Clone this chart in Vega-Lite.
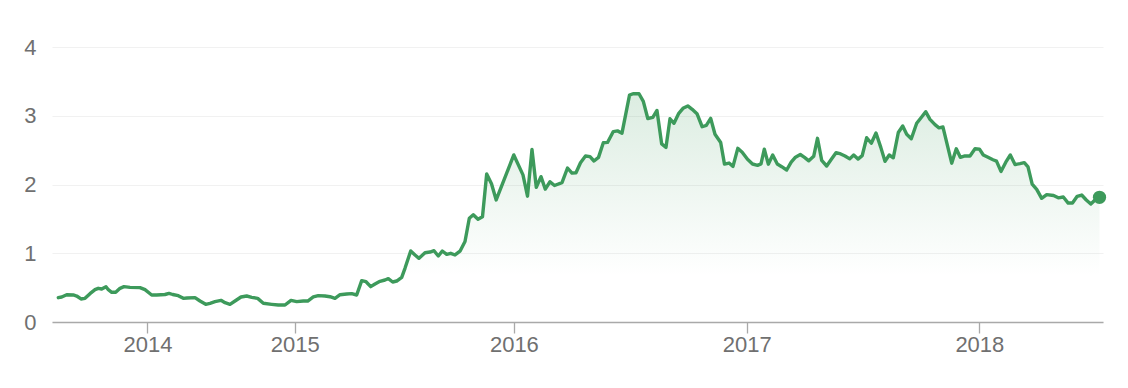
{
  "$schema": "https://vega.github.io/schema/vega-lite/v6.json",
  "width": 1051,
  "height": 275,
  "autosize": {"type": "none"},
  "padding": {"left": 52, "top": 47, "right": 25, "bottom": 66},
  "background": "#ffffff",
  "config": {
    "view": {"stroke": null},
    "axis": {"labelFont": "Liberation Sans", "labelFontSize": 22, "labelColor": "#707070", "title": null}
  },
  "data": {
    "values": [
      {"week": 1.41, "price": 0.354}, {"week": 2.17, "price": 0.364}, {"week": 3.28, "price": 0.397}, {"week": 4.75, "price": 0.393},
      {"week": 5.51, "price": 0.378}, {"week": 6.47, "price": 0.335}, {"week": 7.37, "price": 0.344}, {"week": 8.48, "price": 0.412},
      {"week": 9.6, "price": 0.47}, {"week": 10.33, "price": 0.49}, {"week": 11.09, "price": 0.48}, {"week": 12.05, "price": 0.514},
      {"week": 12.57, "price": 0.47}, {"week": 13.33, "price": 0.432}, {"week": 14.22, "price": 0.432}, {"week": 15.18, "price": 0.49},
      {"week": 16.07, "price": 0.514}, {"week": 17.41, "price": 0.504}, {"week": 19.64, "price": 0.5}, {"week": 20.76, "price": 0.47},
      {"week": 22.25, "price": 0.393}, {"week": 23.37, "price": 0.393}, {"week": 25.22, "price": 0.4}, {"week": 26.12, "price": 0.417},
      {"week": 26.94, "price": 0.4}, {"week": 28.19, "price": 0.383}, {"week": 29.31, "price": 0.344}, {"week": 30.13, "price": 0.35},
      {"week": 31.92, "price": 0.354}, {"week": 33.04, "price": 0.305}, {"week": 34.31, "price": 0.257}, {"week": 35.27, "price": 0.272},
      {"week": 36.38, "price": 0.296}, {"week": 37.72, "price": 0.315}, {"week": 38.62, "price": 0.281}, {"week": 39.73, "price": 0.257},
      {"week": 40.85, "price": 0.305}, {"week": 42.19, "price": 0.364}, {"week": 43.46, "price": 0.378}, {"week": 44.58, "price": 0.359},
      {"week": 45.91, "price": 0.344}, {"week": 47.17, "price": 0.272}, {"week": 49.04, "price": 0.257}, {"week": 50.51, "price": 0.247},
      {"week": 52.01, "price": 0.247}, {"week": 53.35, "price": 0.315}, {"week": 54.62, "price": 0.296}, {"week": 56.09, "price": 0.305},
      {"week": 57.08, "price": 0.305}, {"week": 58.33, "price": 0.364}, {"week": 59.44, "price": 0.383}, {"week": 60.94, "price": 0.378},
      {"week": 62.05, "price": 0.368}, {"week": 63.17, "price": 0.344}, {"week": 64.29, "price": 0.397}, {"week": 65.78, "price": 0.407},
      {"week": 66.9, "price": 0.412}, {"week": 68.01, "price": 0.393}, {"week": 69.13, "price": 0.601}, {"week": 70.09, "price": 0.586},
      {"week": 71.14, "price": 0.514}, {"week": 72.1, "price": 0.553}, {"week": 73.21, "price": 0.592}, {"week": 74.33, "price": 0.611},
      {"week": 75.07, "price": 0.63}, {"week": 76.05, "price": 0.582}, {"week": 76.94, "price": 0.596}, {"week": 78.06, "price": 0.65},
      {"week": 78.79, "price": 0.781}, {"week": 80.07, "price": 1.033}, {"week": 81.03, "price": 0.975}, {"week": 81.92, "price": 0.926},
      {"week": 83.26, "price": 1.008}, {"week": 84.38, "price": 1.018}, {"week": 85.27, "price": 1.037}, {"week": 86.23, "price": 0.96},
      {"week": 87.12, "price": 1.033}, {"week": 88.1, "price": 0.984}, {"week": 89.0, "price": 0.999}, {"week": 89.96, "price": 0.975},
      {"week": 91.07, "price": 1.03}, {"week": 92.19, "price": 1.17}, {"week": 93.15, "price": 1.51}, {"week": 94.04, "price": 1.56},
      {"week": 95.09, "price": 1.494}, {"week": 96.09, "price": 1.53}, {"week": 97.03, "price": 2.153}, {"week": 98.1, "price": 2.01},
      {"week": 99.15, "price": 1.775}, {"week": 103.08, "price": 2.43}, {"week": 105.13, "price": 2.14}, {"week": 106.14, "price": 1.83},
      {"week": 107.14, "price": 2.51}, {"week": 108.1, "price": 1.96}, {"week": 109.15, "price": 2.114}, {"week": 110.11, "price": 1.933},
      {"week": 111.16, "price": 2.04}, {"week": 112.17, "price": 1.985}, {"week": 113.84, "price": 2.026}, {"week": 115.07, "price": 2.24},
      {"week": 116.07, "price": 2.165}, {"week": 116.96, "price": 2.17}, {"week": 117.97, "price": 2.317}, {"week": 119.08, "price": 2.415},
      {"week": 120.09, "price": 2.405}, {"week": 120.98, "price": 2.342}, {"week": 121.99, "price": 2.395}, {"week": 123.06, "price": 2.607},
      {"week": 124.0, "price": 2.612}, {"week": 125.29, "price": 2.77}, {"week": 126.23, "price": 2.78}, {"week": 127.23, "price": 2.747},
      {"week": 128.91, "price": 3.3}, {"week": 129.69, "price": 3.32}, {"week": 131.03, "price": 3.32}, {"week": 131.99, "price": 3.21},
      {"week": 132.99, "price": 2.96}, {"week": 134.11, "price": 2.976}, {"week": 135.04, "price": 3.077}, {"week": 136.09, "price": 2.59},
      {"week": 137.05, "price": 2.54}, {"week": 137.95, "price": 2.956}, {"week": 138.84, "price": 2.89}, {"week": 139.91, "price": 3.035},
      {"week": 140.85, "price": 3.108}, {"week": 141.92, "price": 3.143}, {"week": 142.9, "price": 3.094}, {"week": 143.97, "price": 3.03},
      {"week": 145.13, "price": 2.84}, {"week": 146.05, "price": 2.86}, {"week": 147.03, "price": 2.962}, {"week": 147.99, "price": 2.73},
      {"week": 148.84, "price": 2.65}, {"week": 149.26, "price": 2.61}, {"week": 150.11, "price": 2.296}, {"week": 151.12, "price": 2.312},
      {"week": 152.01, "price": 2.264}, {"week": 153.08, "price": 2.526}, {"week": 154.06, "price": 2.47}, {"week": 155.25, "price": 2.366},
      {"week": 156.36, "price": 2.298}, {"week": 157.48, "price": 2.279}, {"week": 158.26, "price": 2.3}, {"week": 159.0, "price": 2.514},
      {"week": 159.89, "price": 2.296}, {"week": 160.87, "price": 2.429}, {"week": 161.9, "price": 2.298}, {"week": 162.88, "price": 2.259},
      {"week": 163.99, "price": 2.211}, {"week": 165.0, "price": 2.325}, {"week": 165.96, "price": 2.398}, {"week": 167.03, "price": 2.436},
      {"week": 167.97, "price": 2.395}, {"week": 168.93, "price": 2.344}, {"week": 170.02, "price": 2.41}, {"week": 170.87, "price": 2.672},
      {"week": 171.81, "price": 2.35}, {"week": 172.92, "price": 2.269}, {"week": 174.04, "price": 2.374}, {"week": 175.0, "price": 2.463},
      {"week": 176.05, "price": 2.444}, {"week": 177.01, "price": 2.415}, {"week": 178.06, "price": 2.373}, {"week": 178.95, "price": 2.429},
      {"week": 179.91, "price": 2.37}, {"week": 180.85, "price": 2.42}, {"week": 181.85, "price": 2.68}, {"week": 182.88, "price": 2.6},
      {"week": 183.93, "price": 2.75}, {"week": 185.0, "price": 2.54}, {"week": 185.94, "price": 2.337}, {"week": 186.88, "price": 2.429},
      {"week": 187.79, "price": 2.388}, {"week": 188.91, "price": 2.756}, {"week": 189.89, "price": 2.851}, {"week": 190.78, "price": 2.73},
      {"week": 191.81, "price": 2.665}, {"week": 193.01, "price": 2.89}, {"week": 193.9, "price": 2.963}, {"week": 195.02, "price": 3.059},
      {"week": 195.98, "price": 2.948}, {"week": 197.1, "price": 2.87}, {"week": 197.99, "price": 2.824}, {"week": 198.88, "price": 2.836},
      {"week": 200.83, "price": 2.31}, {"week": 201.85, "price": 2.52}, {"week": 202.75, "price": 2.395}, {"week": 203.79, "price": 2.417},
      {"week": 204.91, "price": 2.415}, {"week": 206.03, "price": 2.52}, {"week": 207.03, "price": 2.515}, {"week": 207.88, "price": 2.429},
      {"week": 208.93, "price": 2.395}, {"week": 210.04, "price": 2.36}, {"week": 210.83, "price": 2.34}, {"week": 211.83, "price": 2.19},
      {"week": 212.9, "price": 2.325}, {"week": 213.91, "price": 2.429}, {"week": 214.96, "price": 2.29}, {"week": 216.07, "price": 2.303},
      {"week": 217.03, "price": 2.317}, {"week": 217.86, "price": 2.255}, {"week": 218.79, "price": 2.005}, {"week": 219.8, "price": 1.93},
      {"week": 220.91, "price": 1.799}, {"week": 222.03, "price": 1.852}, {"week": 223.57, "price": 1.84}, {"week": 224.62, "price": 1.806},
      {"week": 225.74, "price": 1.818}, {"week": 226.83, "price": 1.73}, {"week": 227.79, "price": 1.731}, {"week": 228.84, "price": 1.828},
      {"week": 229.84, "price": 1.847}, {"week": 230.87, "price": 1.775}, {"week": 231.88, "price": 1.716}, {"week": 232.81, "price": 1.775},
      {"week": 233.82, "price": 1.814}
    ]
  },
  "encoding": {
    "x": {
      "field": "week",
      "type": "quantitative",
      "scale": {"domain": [0, 234.6], "nice": false, "zero": false},
      "axis": {
        "values": [21.3, 54.2, 103.1, 155.1, 207.0],
        "labelExpr": "datum.value < 40 ? '2014' : datum.value < 80 ? '2015' : datum.value < 130 ? '2016' : datum.value < 180 ? '2017' : '2018'",
        "grid": false,
        "domainColor": "#a9a9a9",
        "domainWidth": 1.3,
        "tickColor": "#a9a9a9",
        "tickWidth": 1.3,
        "tickSize": 11,
        "labelPadding": 1,
        "labelFlush": false,
        "labelOverlap": false
      }
    },
    "y": {
      "field": "price",
      "type": "quantitative",
      "scale": {"domain": [0, 4], "nice": false},
      "axis": {
        "values": [0, 1, 2, 3, 4],
        "grid": true,
        "gridColor": "#f1f1f1",
        "gridWidth": 1,
        "domain": false,
        "ticks": false,
        "labelPadding": 16,
        "labelFlush": false
      }
    }
  },
  "layer": [
    {
      "mark": {
        "type": "area",
        "fill": {
          "gradient": "linear",
          "x1": 0, "y1": 0, "x2": 0, "y2": 1,
          "stops": [
            {"offset": 0, "color": "rgba(61,154,91,0.18)"},
            {"offset": 0.8, "color": "rgba(61,154,91,0)"}
          ]
        }
      }
    },
    {
      "mark": {"type": "line", "color": "#3d9a5b", "strokeWidth": 3.4, "strokeJoin": "round", "strokeCap": "round"}
    },
    {
      "transform": [
        {"joinaggregate": [{"op": "max", "field": "week", "as": "lastWeek"}]},
        {"filter": "datum.week == datum.lastWeek"}
      ],
      "mark": {"type": "circle", "size": 175, "color": "#3d9a5b", "opacity": 1}
    }
  ]
}
